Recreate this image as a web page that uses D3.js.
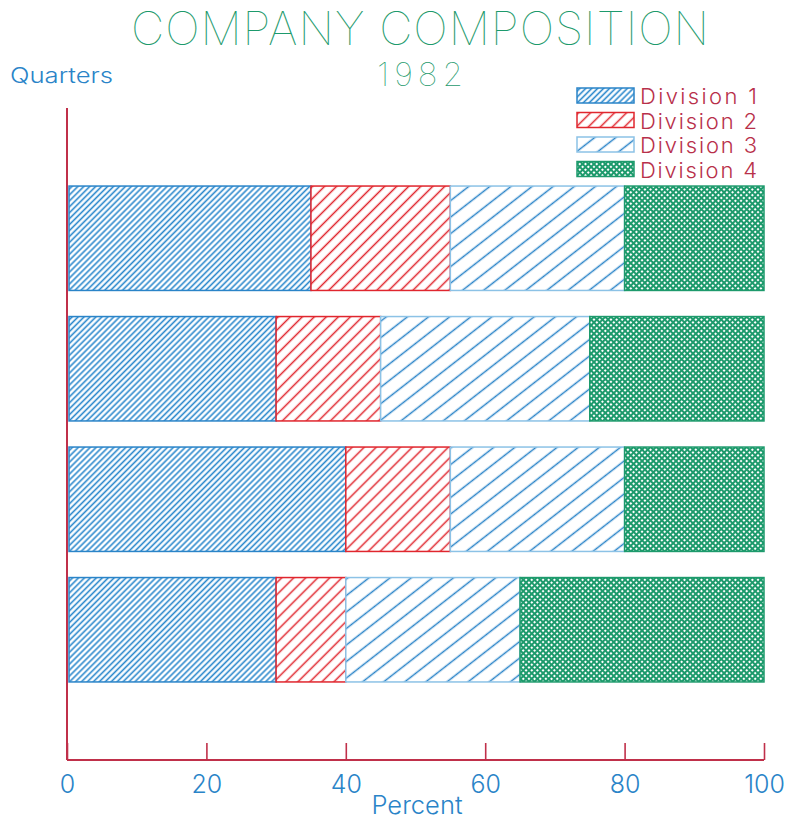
<!DOCTYPE html>
<html><head><meta charset="utf-8">
<script src="https://cdn.jsdelivr.net/npm/d3@7"></script>
<style>body{margin:0;background:#fff}svg{display:block}text{font-family:Inter,"DejaVu Sans",sans-serif}</style>
</head><body>
<script>
const quarters = ["Q4","Q3","Q2","Q1"];
const divisions = ["Division 1","Division 2","Division 3","Division 4"];
const division1 = [35,30,40,30];
const division2 = [20,15,15,10];
const division3 = [25,30,25,25];
const division4 = [20,25,20,35];
const xTicks = [0,20,40,60,80,100];

const W=790,H=819;
const svg=d3.select("body").append("svg").attr("width",W).attr("height",H);
const blue="#2a84c8", red="#e0262e", green="#1d9a6c", axisCol="#c0304a", legendText="#b8304a";

const defs=svg.append("defs");
function hatch(id,color,spacing,angle,sw){
  const p=defs.append("pattern").attr("id",id).attr("patternUnits","userSpaceOnUse")
    .attr("width",spacing).attr("height",spacing).attr("patternTransform",`rotate(${angle})`);
  p.append("rect").attr("width",spacing).attr("height",spacing).attr("fill","#fff");
  p.append("line").attr("x1",spacing/2).attr("y1",0).attr("x2",spacing/2).attr("y2",spacing).attr("stroke",color).attr("stroke-width",sw);
}
hatch("p1","#2a88cc",4.2,45,1.6);
hatch("p2",red,8.5,45,1.5);
hatch("p3","#2a84c8",13,52,1.5);
{
  const p=defs.append("pattern").attr("id","p4").attr("patternUnits","userSpaceOnUse")
    .attr("width",4).attr("height",4).attr("patternTransform","rotate(45)");
  p.append("rect").attr("width",4).attr("height",4).attr("fill",green);
  p.append("rect").attr("x",1).attr("y",1).attr("width",2).attr("height",2).attr("fill","#fff");
}
const fills=["url(#p1)","url(#p2)","url(#p3)","url(#p4)"];
const strokes=[blue,red,"#8cc2e6",green];

const x=d3.scaleLinear().domain([0,100]).range([67,764]);
const y=d3.scaleBand().domain(quarters).range([173,695]).paddingInner(0.2).paddingOuter(0.1);

const rows=quarters.map((q,i)=>({q,d1:division1[i],d2:division2[i],d3:division3[i],d4:division4[i]}));
const stack=d3.stack().keys(["d1","d2","d3","d4"])(rows);

stack.forEach((layer,k)=>{
  svg.append("g").selectAll("rect").data(layer).join("rect")
    .attr("x",d=>x(d[0])+(k===0?2:0))
    .attr("y",d=>y(d.data.q))
    .attr("width",d=>x(d[1])-x(d[0])-(k===0?2:0))
    .attr("height",y.bandwidth())
    .attr("fill",fills[k]).attr("stroke",strokes[k]).attr("stroke-width",1.5);
});

// axes
svg.append("line").attr("x1",67).attr("x2",67).attr("y1",108).attr("y2",760).attr("stroke",axisCol).attr("stroke-width",2);
svg.append("line").attr("x1",67).attr("x2",764).attr("y1",760).attr("y2",760).attr("stroke",axisCol).attr("stroke-width",2);
const ax=svg.append("g").attr("transform","translate(0,760)")
  .call(d3.axisBottom(x).tickValues(xTicks).tickSizeInner(-17).tickSizeOuter(0).tickPadding(15));
ax.select(".domain").remove();
ax.selectAll(".tick line").attr("stroke",axisCol).attr("stroke-width",1.6);
ax.selectAll(".tick text").attr("fill",blue).style("font-size","25px").style("font-weight",300).style("font-family","Inter,'DejaVu Sans',sans-serif");

svg.append("text").attr("x",417).attr("y",814).attr("text-anchor","middle").attr("fill",blue)
  .style("font-size","25px").style("font-weight",300).attr("textLength",91).attr("lengthAdjust","spacingAndGlyphs").text("Percent");
svg.append("text").attr("x",10).attr("y",83).attr("fill",blue)
  .style("font-size","21px").style("font-weight",300).attr("textLength",103).attr("lengthAdjust","spacingAndGlyphs").text("Quarters");

svg.append("text").attr("x",420).attr("y",45).attr("text-anchor","middle").attr("fill",green)
  .style("font-size","46px").style("font-weight",100).attr("textLength",578).attr("lengthAdjust","spacing").text("COMPANY COMPOSITION");
svg.append("text").attr("x",420).attr("y",86).attr("text-anchor","middle").attr("fill",green)
  .style("font-size","33px").style("font-weight",100).attr("textLength",86).attr("lengthAdjust","spacing").text("1982");

// legend
const lg=svg.append("g");
divisions.forEach((d,i)=>{
  const yy=88+i*24.5;
  lg.append("rect").attr("x",577).attr("y",yy).attr("width",57).attr("height",15)
    .attr("fill",fills[i]).attr("stroke",strokes[i]).attr("stroke-width",1.5);
  lg.append("text").attr("x",640).attr("y",yy+16).attr("fill",legendText)
    .style("font-size","22px").style("font-weight",300).attr("textLength",117).attr("lengthAdjust","spacing").text(d.replace(" ","  "));
});
</script>
</body></html>
